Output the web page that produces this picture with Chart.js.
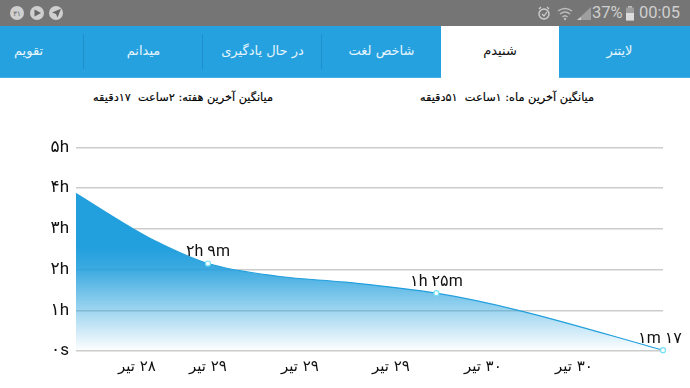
<!DOCTYPE html>
<html lang="fa"><head><meta charset="utf-8">
<script src="https://cdn.jsdelivr.net/npm/chart.js@4"></script>
<style>
html,body{margin:0;padding:0;background:#fff;width:690px;height:388px;overflow:hidden;font-family:"DejaVu Sans",sans-serif}
#status{position:absolute;left:0;top:0;width:690px;height:26px;background:#757575}
#tabs{position:absolute;left:0;top:26px;width:690px;height:51px;background:#26a1df;border-bottom:1px solid #46aee4;box-sizing:content-box}
.tab{position:absolute;top:0;height:51px;line-height:49px;width:119px;text-align:center;color:#e6f5fd;font-size:13px;direction:rtl;white-space:nowrap}
.div{position:absolute;top:8px;height:35px;width:1px;background:#1e8fca}
.sum{position:absolute;top:91px;width:300px;text-align:center;font-size:11.3px;direction:rtl;color:#000;white-space:pre;-webkit-text-stroke:0.15px #000}
.st{position:absolute;top:3px;font:16.5px/20px Roboto,sans-serif;color:#cfcfcf}
canvas{position:absolute;left:0;top:120px}
svg{position:absolute}
</style></head><body>
<div id="status">
<svg style="left:9px;top:5px" width="56" height="16" viewBox="0 0 56 16">
<circle cx="8" cy="8" r="7" fill="#cfcfcf"/><text x="8" y="11" font-size="7" text-anchor="middle" fill="#666" font-family="DejaVu Sans">۳۱</text>
<circle cx="28" cy="8" r="7" fill="#cfcfcf"/><path d="M25.500 4.500 L32 8 L25.500 11.500Z" fill="#666"/>
<circle cx="47" cy="8" r="7" fill="#cfcfcf"/><path d="M43 7.500 L52 3.800 L48.500 12.500 L47 9Z" fill="#666"/>
</svg>
<svg style="left:537px;top:5px" width="76" height="16" viewBox="0 0 76 16">
<circle cx="7" cy="9" r="5" fill="none" stroke="#cfcfcf" stroke-width="1.400"/><path d="M5 9 L7 11 L10 7M2 4 L4 2M12 4 L10 2" fill="none" stroke="#cfcfcf" stroke-width="1.200"/>
<path d="M21 6 Q28 1 35 6M23 9 Q28 5 33 9M25.500 12 Q28 9.500 30.500 12" fill="none" stroke="#bdbdbd" stroke-width="1.500"/><circle cx="28" cy="14" r="1.200" fill="#bdbdbd"/>
<path d="M40 15 L54 15 L54 2Z" fill="#9e9e9e"/><path d="M40 15 L44 15 L44 12 L40 15Z" fill="#cfcfcf"/>
</svg>
<div class="st" style="left:592px">37%</div>
<svg style="left:625px;top:6px" width="10" height="15" viewBox="0 0 10 15"><rect x="3" y="0" width="4" height="2" fill="#bdbdbd"/><rect x="1" y="1.500" width="8" height="13" fill="#9e9e9e"/><rect x="1" y="7" width="8" height="7.500" fill="#dcdcdc"/></svg>
<div class="st" style="left:639px">00:05</div>
</div>
<div id="tabs">
<div class="tab" style="left:-31px">تقویم</div>
<div class="div" style="left:83px"></div>
<div class="tab" style="left:84px">میدانم</div>
<div class="div" style="left:202px"></div>
<div class="tab" style="left:203px">در حال یادگیری</div>
<div class="div" style="left:321px"></div>
<div class="tab" style="left:322px">شاخص لغت</div>
<div class="tab" style="left:441px;width:118px;height:52px;background:#fff;color:#111">شنیدم</div>
<div class="tab" style="left:560px">لایتنر</div>
</div>
<div class="sum" style="left:33px">میانگین آخرین هفته: ۲ساعت  ۱۷دقیقه</div>
<div class="sum" style="left:357px">میانگین آخرین ماه: ۱ساعت  ۵۱دقیقه</div>
<canvas id="c" width="690" height="268"></canvas>
<script>
const xPositions = [0, 0.63, 0.92, 1.45, 2.24, 2.96, 3.96, 4.86, 6.45];
const hours = [3.87, 3.0, 2.65, 2.15, 1.83, 1.69, 1.42, 1.0, 0.02];
const pointLabels = ["", "", "", "۲h ۹m", "", "", "۱h ۲۵m", "", "۱m ۱۷"];
const yTicks = ["۰s", "۱h", "۲h", "۳h", "۴h", "۵h"];
const xTickValues = [0.67, 1.45, 2.46, 3.46, 4.47, 5.47];
const xTickLabels = ["۲۸ تیر", "۲۹ تیر", "۲۹ تیر", "۲۹ تیر", "۳۰ تیر", "۳۰ تیر"];

const LABEL_FONT = '16px Roboto, "DejaVu Sans", sans-serif';
const TICK_FONT = { family: 'Roboto, "DejaVu Sans", sans-serif', size: 17 };

const pointLabelPlugin = {
  id: 'pointLabelPlugin',
  afterDatasetsDraw(chart) {
    const ctx = chart.ctx, pts = chart.getDatasetMeta(0).data;
    ctx.save();
    ctx.font = LABEL_FONT; ctx.fillStyle = '#111';
    ctx.textAlign = 'center'; ctx.textBaseline = 'bottom'; ctx.direction = 'ltr';
    pts.forEach((p, i) => {
      if (!pointLabels[i]) return;
      ctx.fillText(pointLabels[i], p.x + (i === pts.length - 1 ? -3 : 0), p.y - 3);
    });
    ctx.restore();
  }
};

new Chart(document.getElementById('c'), {
  type: 'line',
  data: { datasets: [{
    data: xPositions.map((x, i) => ({ x, y: hours[i] })),
    borderColor: '#229fdd', borderWidth: 1.2,
    cubicInterpolationMode: 'monotone', fill: 'origin', clip: false,
    pointRadius: c => pointLabels[c.dataIndex] ? 2.5 : 0,
    pointBorderColor: '#74e0f6', pointBackgroundColor: '#ffffff', pointBorderWidth: 1.2,
    backgroundColor: c => {
      const a = c.chart.chartArea;
      if (!a) return 'rgba(34,159,221,0.9)';
      const g = c.chart.ctx.createLinearGradient(0, a.top, 0, a.bottom);
      g.addColorStop(0, 'rgba(34,159,221,1)');
      g.addColorStop(0.49, 'rgba(34,159,221,1)');
      g.addColorStop(0.6, 'rgba(34,159,221,0.88)');
      g.addColorStop(1, 'rgba(34,159,221,0)');
      return g;
    }
  }]},
  options: {
    responsive: false, animation: false,
    layout: { padding: { top: 27.5, right: 27, left: 0, bottom: 0 } },
    plugins: { legend: { display: false }, tooltip: { enabled: false } },
    scales: {
      x: {
        type: 'linear', min: 0, max: 6.45,
        grid: { display: false }, border: { display: false },
        afterBuildTicks: s => { s.ticks = xTickValues.map(value => ({ value })); },
        afterFit: s => { s.height = 37; },
        ticks: { autoSkip: false, maxRotation: 0, color: '#111', padding: -1,
          font: { family: '"DejaVu Sans", sans-serif', size: 15 },
          callback: (v, i) => '\u200f' + xTickLabels[i] }
      },
      y: {
        min: 0, max: 5,
        grid: { color: '#cccccc', lineWidth: 1.4, drawTicks: false },
        border: { display: false },
        afterFit: s => { s.width = 76; },
        ticks: { stepSize: 1, color: '#111', padding: 7, font: TICK_FONT,
          callback: v => yTicks[v] }
      }
    }
  },
  plugins: [pointLabelPlugin]
});
</script>
</body></html>
